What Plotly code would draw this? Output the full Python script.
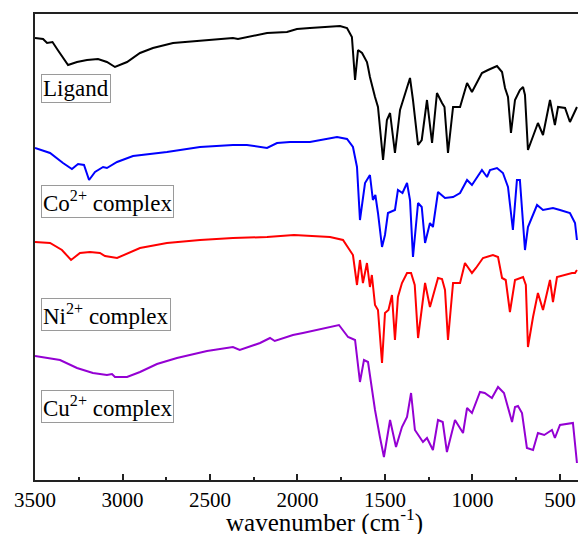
import plotly.graph_objects as go

# Wavenumber (cm-1) and transmittance (arbitrary, offset)
lig_wn = [3500, 3454, 3431, 3400, 3370, 3311, 3260, 3203, 3140, 3089, 3043, 2974, 2900, 2826, 2711, 2557,
          2369, 2340, 2174, 2060, 2003, 1929, 1854, 1757, 1717, 1689, 1671, 1654, 1631, 1603, 1597, 1586,
          1557, 1540, 1511, 1489, 1471, 1443, 1414, 1386, 1357, 1340, 1311, 1290, 1260, 1231, 1203, 1174,
          1160, 1140, 1111, 1071, 1031, 1003, 974, 946, 911, 860, 831, 814, 797, 780, 757, 729, 711, 700,
          683, 654, 626, 597, 557, 529, 511, 471, 443, 403]
lig_t = [442, 441, 437, 438, 430, 415, 418, 420, 421, 418, 413, 418, 427, 432, 437, 439,
         442, 441, 447, 448, 451, 452, 453, 454, 452, 443, 400, 430, 427, 418, 413, 403,
         383, 373, 320, 360, 367, 327, 370, 387, 402, 380, 335, 340, 380, 337, 387, 377,
         373, 327, 373, 373, 397, 388, 398, 407, 410, 414, 408, 392, 383, 347, 380, 390, 393, 385,
         330, 343, 357, 345, 380, 355, 373, 372, 358, 373]

co_wn = [3500, 3414, 3340, 3289, 3254, 3220, 3191, 3157, 3111, 3089, 3031, 2940, 2746, 2557, 2369, 2289,
         2174, 2117, 2043, 1929, 1774, 1717, 1683, 1660, 1643, 1614, 1586, 1569, 1555, 1540, 1517, 1500,
         1483, 1443, 1426, 1400, 1374, 1357, 1340, 1311, 1290, 1271, 1243, 1226, 1197, 1157, 1111, 1071,
         1031, 1003, 946, 917, 900, 860, 826, 797, 769, 746, 729, 700, 683, 631, 597, 540, 500, 443, 414, 403]
co_t = [332, 327, 317, 311, 316, 315, 300, 308, 313, 312, 318, 324, 328, 333, 335, 335,
        332, 337, 338, 338, 343, 341, 333, 313, 260, 297, 305, 280, 285, 267, 233, 245,
        267, 270, 290, 287, 297, 280, 223, 277, 273, 237, 257, 253, 288, 282, 283, 287,
        300, 295, 310, 303, 310, 312, 307, 293, 250, 300, 300, 230, 253, 275, 270, 272, 270, 267, 257, 240]

ni_wn = [3500, 3414, 3346, 3294, 3243, 3186, 3129, 3100, 3031, 2969, 2900, 2746, 2557, 2369, 2174, 2020,
         1814, 1740, 1711, 1683, 1660, 1643, 1626, 1603, 1586, 1575, 1557, 1540, 1517, 1500, 1480, 1460,
         1443, 1426, 1403, 1374, 1351, 1330, 1311, 1271, 1243, 1225, 1197, 1174, 1157, 1140, 1111, 1071,
         1043, 1003, 980, 940, 883, 854, 831, 810, 786, 757, 729, 711, 695, 683, 654, 626, 597, 557,
         540, 517, 431, 414, 403]
ni_t = [238, 237, 230, 220, 227, 228, 227, 224, 222, 227, 232, 237, 240, 242, 243, 245,
        243, 240, 233, 225, 195, 220, 197, 217, 193, 205, 175, 170, 117, 167, 170, 185,
        140, 183, 197, 207, 207, 195, 142, 197, 173, 185, 202, 201, 190, 140, 197, 197,
        217, 207, 212, 222, 225, 223, 202, 200, 168, 200, 202, 203, 195, 133, 163, 187, 170, 200,
        178, 203, 207, 207, 210]

cu_wn = [3500, 3414, 3357, 3260, 3169, 3089, 3060, 3043, 2974, 2900, 2803, 2689, 2517, 2369, 2330, 2214,
         2157, 2130, 2026, 1969, 1889, 1763, 1711, 1671, 1643, 1620, 1597, 1586, 1557, 1529, 1506, 1471,
         1437, 1403, 1374, 1351, 1329, 1283, 1260, 1226, 1197, 1170, 1146, 1100, 1054, 1031, 1003, 957,
         930, 889, 854, 820, 803, 774, 757, 740, 717, 689, 654, 626, 590, 546, 529, 500, 426, 403]
cu_t = [124, 122, 120, 112, 107, 105, 106, 103, 103, 108, 116, 122, 129, 133, 130, 137,
        142, 139, 145, 147, 150, 155, 143, 140, 98, 120, 118, 105, 70, 43, 23, 60,
        33, 53, 63, 87, 50, 38, 42, 30, 60, 58, 28, 60, 47, 72, 67, 88,
        87, 82, 93, 87, 77, 58, 73, 74, 67, 32, 30, 47, 45, 50, 42, 55, 57, 17]

labels = ["Ligand", "Co<sup>2+</sup> complex", "Ni<sup>2+</sup> complex", "Cu<sup>2+</sup> complex"]
label_y = [392, 279, 166, 74]
colors = ["#000000", "#0000FF", "#FF0000", "#9400D3"]
series = [(lig_wn, lig_t), (co_wn, co_t), (ni_wn, ni_t), (cu_wn, cu_t)]
x_title = "wavenumber (cm<sup>-1</sup>)"

fig = go.Figure()
for (wn, t), c, name in zip(series, colors, labels):
    fig.add_trace(go.Scatter(x=wn, y=t, mode="lines", line=dict(color=c, width=2),
                             name=name, showlegend=False))

for txt, yy in zip(labels, label_y):
    fig.add_annotation(x=3466, y=yy, xref="x", yref="y", text=txt, showarrow=False,
                       xanchor="left", yanchor="middle",
                       font=dict(family="Liberation Serif", size=23, color="#000"),
                       bordercolor="#9a9a9a", borderwidth=1, borderpad=1, bgcolor="rgba(0,0,0,0)")

# x-axis title placed as a paper annotation below the tick labels
fig.add_annotation(x=0.534, y=-0.0875, xref="paper", yref="paper", text=x_title, showarrow=False,
                   xanchor="center", yanchor="middle",
                   font=dict(family="Liberation Serif", size=25, color="#000"))

fig.update_layout(
    width=578, height=534,
    margin=dict(l=35, r=0, t=14, b=54),
    paper_bgcolor="white", plot_bgcolor="white",
    font=dict(family="Liberation Serif", size=21, color="#000"),
)
fig.update_xaxes(range=[3500, 397], showgrid=False, zeroline=False, automargin=False,
                 showline=True, linecolor="#222", linewidth=2, mirror=True,
                 ticks="inside", ticklen=6, tickwidth=2, tickcolor="#222",
                 tick0=500, dtick=500,
                 minor=dict(ticks="inside", ticklen=3, tickwidth=2, tickcolor="#222", dtick=250, tick0=250),
                 tickfont=dict(family="Liberation Serif", size=21))
fig.update_yaxes(range=[0, 466], showgrid=False, zeroline=False, showticklabels=False,
                 automargin=False,
                 showline=True, linecolor="#222", linewidth=2, ticks="")

fig.write_html("out.html")
